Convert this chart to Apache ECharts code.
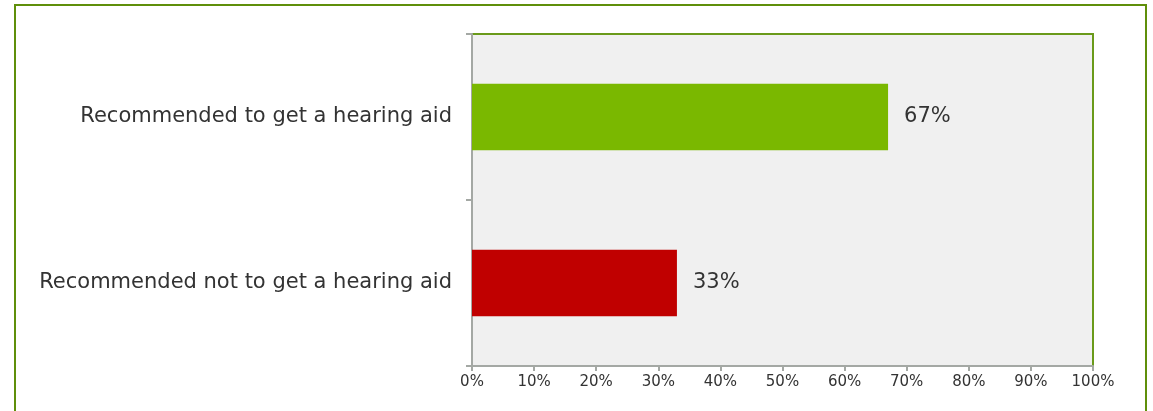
<!DOCTYPE html>
<html><head><meta charset="utf-8">
<script src="https://cdn.jsdelivr.net/npm/echarts@6/dist/echarts.min.js"></script>
<style>html,body{margin:0;padding:0;background:#fff}#c{width:1153px;height:411px}</style>
</head><body><div id="c"></div>
<script>
const categories = ["Recommended to get a hearing aid", "Recommended not to get a hearing aid"];
const values = [67, 33];
const barColors = ["#7ab800", "#c00000"];
const xTicks = [0, 10, 20, 30, 40, 50, 60, 70, 80, 90, 100];

const chart = echarts.init(document.getElementById('c'), null, {renderer: 'canvas'});
const font = "DejaVu Sans";
chart.setOption({
  animation: false,
  textStyle: {fontFamily: font},
  graphic: [{
    type: 'rect', shape: {x: 15, y: 5, width: 1131, height: 450},
    style: {fill: 'none', stroke: '#5f8f0a', lineWidth: 2}, z: -10
  }],
  grid: {
    left: 472, top: 34, right: 60, bottom: 45,
    show: true, backgroundColor: '#f0f0f0', borderColor: '#6a9a1a', borderWidth: 2
  },
  xAxis: {
    type: 'value', min: 0, max: 100, interval: 10,
    axisLine: {show: true, lineStyle: {color: '#a4a8a4', width: 2}},
    axisTick: {show: true, length: 5, lineStyle: {color: '#a4a8a4', width: 2}},
    splitLine: {show: false},
    axisLabel: {color: '#333', fontSize: 15, fontFamily: font, margin: 9,
      formatter: v => xTicks.includes(v) ? v + '%' : ''}
  },
  yAxis: {
    type: 'category', data: categories, inverse: true,
    axisLine: {show: true, lineStyle: {color: '#a4a8a4', width: 2}},
    axisTick: {show: true, length: 6, lineStyle: {color: '#a4a8a4', width: 2}},
    axisLabel: {color: '#333', fontSize: 21, fontFamily: font, margin: 20}
  },
  series: [{
    type: 'bar',
    data: values.map((v, i) => ({value: v, itemStyle: {color: barColors[i]}})),
    barWidth: '40%',
    label: {show: true, position: 'right', distance: 16, color: '#333',
      fontSize: 21, fontFamily: font, formatter: p => p.value + '%'}
  }]
});
</script></body></html>
